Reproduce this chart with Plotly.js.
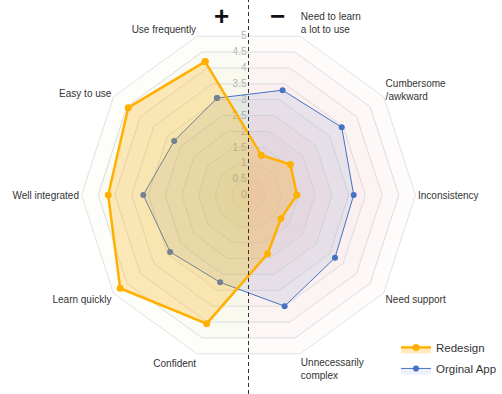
<!DOCTYPE html>
<html>
<head>
<meta charset="utf-8">
<script src="https://cdn.plot.ly/plotly-3.0.1.min.js"></script>
<style>html,body{margin:0;padding:0;background:#fff;}#chart{width:502px;height:394px;}</style>
</head>
<body>
<div id="chart"></div>
<script>
// ---- data ----
const categories = ['Use frequently','Easy to use','Well integrated','Learn quickly','Confident',
  'Unnecessarily<br>complex','Need support','Inconsistency','Cumbersome<br>/awkward','Need to learn<br>a lot to use'];
const redesign = [4.2, 4.45, 4.2, 4.75, 4.05, 1.85, 1.2, 1.45, 1.55, 1.25];
const original = [3.05, 2.75, 3.15, 2.9, 2.75, 3.5, 3.2, 3.15, 3.45, 3.3];
const seriesNames = ['Redesign', 'Orginal App'];
const radialTicks = [0, 0.5, 1, 1.5, 2, 2.5, 3, 3.5, 4, 4.5, 5];

// ---- layout constants ----
const W = 502, H = 394;
const cx = 248.5, cy = 195, R = 167;
const dom = {x: [(cx - R) / W, (cx + R) / W], y: [1 - (cy + R) / H, 1 - (cy - R) / H]};
const FONT = 'Liberation Sans, Arial, sans-serif';
const n = categories.length;
const step = 360 / n;
const rot = 108;
const c = Math.cos(step / 2 * Math.PI / 180);
const rMax = radialTicks[radialTicks.length - 1];

const traces = [];
// background: stacked half-decagons (faint radial gradient), on hidden polar
const levels = radialTicks.filter(v => v > 0);
levels.forEach(L => {
  const leftTh = [90], leftR = [L];
  for (let i = 0; i < n / 2; i++) { leftTh.push(rot + i * step); leftR.push(L / c); }
  leftTh.push(270, 270); leftR.push(L, 0);
  traces.push({type: 'scatterpolar', subplot: 'polar', theta: leftTh, r: leftR, mode: 'none',
    fill: 'toself', fillcolor: 'rgba(190,210,100,0.035)', showlegend: false, hoverinfo: 'skip'});
  const rightTh = [270], rightR = [L];
  for (let i = n / 2; i < n; i++) { rightTh.push(rot + i * step); rightR.push(L / c); }
  rightTh.push(90, 90); rightR.push(L, 0);
  traces.push({type: 'scatterpolar', subplot: 'polar', theta: rightTh, r: rightR, mode: 'none',
    fill: 'toself', fillcolor: 'rgba(235,140,140,0.035)', showlegend: false, hoverinfo: 'skip'});
});

const closeArr = a => a.concat([a[0]]);
traces.push({type: 'scatterpolar', subplot: 'polar2', name: seriesNames[1], legendrank: 1002,
  legendgroup: 'orig',
  theta: closeArr(categories), r: closeArr(original), mode: 'lines+markers',
  line: {color: '#4472C4', width: 1}, marker: {color: '#4472C4', size: 6},
  fill: 'toself', fillcolor: 'rgba(68,114,196,0.10)'});
traces.push({type: 'scatterpolar', subplot: 'polar2', name: seriesNames[0], legendrank: 1001,
  legendgroup: 'red',
  theta: closeArr(categories), r: closeArr(redesign), mode: 'lines+markers',
  line: {color: '#FFB000', width: 2.5}, marker: {color: '#FFB000', size: 7},
  fill: 'toself', fillcolor: 'rgba(255,176,0,0.25)'});

const layout = {
  width: W, height: H,
  margin: {l: 0, r: 0, t: 0, b: 0},
  paper_bgcolor: '#fff',
  font: {family: FONT, size: 10, color: '#333'},
  showlegend: true,
  legend: {x: 1, xanchor: 'right', y: 0.155, yanchor: 'top', traceorder: 'grouped',
    tracegroupgap: 2,
    font: {family: FONT, size: 11.5, color: '#333'}, bgcolor: 'rgba(0,0,0,0)', itemwidth: 30},
  polar: {
    domain: dom, bgcolor: 'rgba(0,0,0,0)', hole: 0,
    angularaxis: {type: 'linear', rotation: 0, direction: 'counterclockwise',
      showgrid: false, showline: false, showticklabels: false, ticks: ''},
    radialaxis: {range: [0, rMax / c], tickmode: 'array', tickvals: radialTicks,
      showgrid: false, showline: false, ticks: '', angle: 90, side: 'counterclockwise',
      tickangle: 90,
      tickfont: {family: FONT, size: 10, color: '#b0b0b0'}}
  },
  polar2: {
    domain: dom, bgcolor: 'rgba(0,0,0,0)', gridshape: 'linear', hole: 0,
    angularaxis: {type: 'category', rotation: rot, direction: 'counterclockwise',
      showgrid: false, showline: true, linecolor: '#e2e2e2', linewidth: 1,
      ticks: '', tickfont: {family: FONT, size: 10, color: '#333'}},
    radialaxis: {range: [0, rMax], tickmode: 'array', tickvals: radialTicks,
      showticklabels: false, ticks: '', showline: false, angle: 90,
      gridcolor: '#dcdcdc', gridwidth: 1}
  },
  shapes: [{type: 'line', xref: 'paper', yref: 'paper', x0: cx / W, x1: cx / W, y0: 0, y1: 1,
    line: {color: '#333', width: 1, dash: '4px,3px'}}],
  annotations: [
    {xref: 'paper', yref: 'paper', x: (cx - 27) / W, y: 1, text: '+', showarrow: false, borderpad: 0,
      font: {family: FONT, size: 26, color: '#111', weight: 'bold'}, xanchor: 'center', yanchor: 'top'},
    {xref: 'paper', yref: 'paper', x: (cx + 29) / W, y: 1, text: '\u2212', showarrow: false, borderpad: 0,
      font: {family: FONT, size: 26, color: '#111', weight: 'bold'}, xanchor: 'center', yanchor: 'top'}
  ]
};

Plotly.newPlot('chart', traces, layout, {staticPlot: true, displayModeBar: false});
</script>
</body>
</html>
